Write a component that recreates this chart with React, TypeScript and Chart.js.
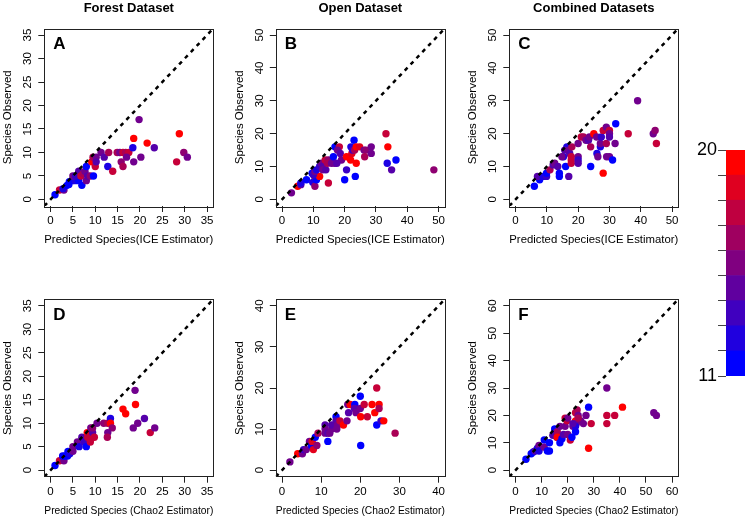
import React, { useEffect, useRef } from "react";
import { Chart, registerables } from "chart.js";
Chart.register(...registerables);

const FONT = '"Liberation Sans", Arial, Helvetica, sans-serif';

// ---------- DATA ----------
// Panel A: Forest dataset, ICE estimator
const forestIceX = [1, 2, 3, 2.8, 3.7, 4.1, 4.2, 4.8, 5.5, 6.3, 7, 5, 5.6, 6.3, 6.8, 7.3, 7.7, 8, 8, 8.3, 8.9, 9.6, 9.2, 9.5, 10.2, 10, 10.2, 11.3, 12, 13, 12.8, 13.9, 14.9, 15.5, 16.2, 16.8, 17.5, 17, 15.8, 16.2, 18.6, 18.4, 18.6, 20.2, 19.8, 21.6, 23.2, 28.8, 28.2, 29.8, 30.6];
const forestIceY = [1, 2, 2, 2.3, 3, 3.2, 3.8, 4, 4, 4, 3, 5, 5, 6, 5, 5.5, 6, 7, 4, 5, 5, 5, 8, 9, 9, 7, 8, 10, 9, 10, 7, 6, 10, 10, 10, 10, 10, 9, 8, 7, 8, 11, 13, 9, 17, 12, 11, 14, 8, 10, 9];
const forestIceC = [11, 18, 15, 12, 11, 11, 11, 11, 12, 11, 11, 15, 13, 14, 18, 17, 15, 11, 15, 14, 16, 11, 20, 17, 15, 18, 14, 15, 14, 17, 12, 18, 17, 15, 18, 17, 18, 15, 16, 17, 15, 12, 20, 15, 15, 20, 14, 20, 18, 16, 15];

// Panel B: Open dataset, ICE estimator
const openIceX = [3, 5, 6, 6, 7.8, 9.6, 9.8, 10.4, 10.5, 11, 12, 10, 10.5, 11, 12, 12.6, 13, 13, 14, 13.8, 14.8, 14.5, 15.8, 16.8, 16.4, 16.9, 18.3, 17.7, 18.6, 19, 17.5, 14.8, 20, 20.6, 20.6, 21.9, 22.3, 22, 22.5, 23, 23.2, 23.7, 23.4, 23.7, 24.8, 26.2, 26.8, 26.4, 28.5, 28.5, 33.2, 33.8, 33.6, 36.4, 35, 48.5];
const openIceY = [2, 4, 4.5, 5, 6, 8, 5.2, 7, 4, 6, 7, 7.5, 8.5, 9, 10, 11, 10, 9, 9, 12, 12, 11, 11, 11, 13, 16, 16, 15, 14, 12, 11, 5, 6, 9, 13, 12, 14, 16, 15, 18, 15, 16, 7, 11, 16, 15, 15, 13, 16, 14, 20, 16, 11, 12, 9, 9];
const openIceC = [15, 20, 14, 12, 11, 11, 12, 15, 16, 11, 20, 13, 15, 12, 13, 15, 14, 15, 14, 18, 16, 17, 15, 15, 11, 11, 18, 15, 14, 15, 14, 18, 11, 13, 20, 20, 19, 12, 13, 11, 17, 20, 11, 20, 19, 15, 16, 17, 15, 15, 18, 20, 12, 11, 14, 16];

// Panel C: Combined datasets, ICE estimator
const combIceX = [6, 7.7, 7, 8.8, 9.9, 9.9, 11, 12, 12.5, 13.5, 14, 14, 17, 16, 15.3, 14.8, 16.4, 15.7, 17, 17.3, 18, 17.8, 17.8, 17.8, 20, 20, 20, 20, 21, 21.7, 22.5, 23.3, 23.6, 24, 24, 25, 25.9, 26, 26.3, 27.1, 27.1, 27.4, 28, 28, 29, 29, 29.1, 30, 30, 30, 30, 31, 31.8, 32, 36, 39, 44, 44.6, 45];
const combIceY = [4, 6, 7, 7, 7, 8, 9, 10.5, 11, 10, 8, 7, 7, 10, 13, 13, 16, 15, 15, 14, 16, 13, 12, 11, 13, 12, 11, 17, 19, 19, 18, 18, 19, 16, 10, 20, 19, 14, 13, 16, 17, 19, 8, 21, 22, 17, 13, 21, 20, 19, 13, 12, 17, 23, 20, 30, 20, 21, 17];
const combIceC = [11, 11, 14, 12, 13, 11, 17, 14, 15, 14, 11, 11, 14, 11, 12, 15, 12, 14, 15, 14, 17, 18, 18, 18, 15, 13, 14, 15, 18, 17, 15, 14, 15, 17, 11, 20, 15, 12, 15, 12, 15, 13, 20, 18, 15, 17, 15, 18, 15, 14, 15, 11, 15, 11, 18, 15, 15, 16, 18];

// Panel D: Forest dataset, Chao2 estimator
const forestChaoX = [1, 2, 3, 2.7, 3.2, 3.8, 3.9, 4.3, 5, 5, 6, 6.4, 7, 7.5, 8, 8.2, 8.3, 8.9, 9, 9.4, 9.8, 9.4, 10.4, 11.9, 12.8, 13.4, 13.4, 13.8, 12.8, 12.7, 16.2, 16.8, 18.9, 19, 18.5, 19.5, 21, 22.3, 23.3];
const forestChaoY = [1, 2, 2, 3, 3, 3, 4, 3.5, 4, 5, 6, 5, 7, 6, 5, 8, 7, 6, 9, 8, 7, 9, 10, 10, 10, 11, 10, 9, 8, 7, 13, 12, 17, 14, 9, 10, 11, 8, 9];
const forestChaoC = [11, 18, 15, 11, 11, 11, 11, 12, 15, 15, 15, 12, 14, 13, 11, 20, 18, 18, 15, 14, 18, 16, 15, 16, 17, 12, 20, 16, 15, 17, 20, 20, 15, 20, 15, 15, 14, 18, 15];

// Panel E: Open dataset, Chao2 estimator
const openChaoX = [2, 4, 5.2, 5.5, 6.2, 7, 7.5, 8, 7.7, 8.5, 8.9, 9.2, 11, 11, 11, 11.7, 11.7, 12.2, 12.7, 12.7, 13.8, 13.8, 14.2, 14, 14.8, 15.7, 16.6, 17, 16.8, 17.4, 18.6, 18.5, 18.9, 20, 20, 20.1, 20.1, 21, 21.8, 23, 23.7, 24.2, 24.2, 24.8, 24.8, 25.3, 26, 28.9];
const openChaoY = [2, 4, 4, 5, 5, 7, 6, 5, 7, 8, 6, 9, 11, 10, 9, 9, 7, 9, 10, 11, 13, 12, 11, 10, 12, 11, 12, 14, 16, 16, 16, 15, 14, 18, 15, 13, 6, 16, 13, 16, 14, 20, 11, 16, 15, 12, 12, 9];
const openChaoC = [15, 20, 15, 13, 15, 15, 11, 19, 19, 11, 16, 17, 14, 15, 15, 14, 11, 15, 15, 14, 11, 14, 15, 15, 18, 20, 15, 14, 15, 20, 11, 14, 15, 11, 15, 20, 11, 18, 18, 20, 20, 18, 11, 20, 17, 13, 20, 17];

// Panel F: Combined datasets, Chao2 estimator
const combChaoX = [4, 6, 6.8, 7.5, 8.4, 9, 9, 11, 11, 12.2, 13, 13, 14.3, 15, 15.8, 16, 16, 17, 17.8, 17, 18.4, 19, 19, 19.7, 20, 21, 21.6, 22, 23, 23, 23.6, 23.3, 23, 23, 24, 25, 26, 27, 28, 28, 29, 35, 35, 35, 38, 41, 53, 54, 20, 24, 22];
const combChaoY = [4, 6, 6.6, 7, 8, 9, 7, 11, 8.4, 7, 7, 10, 12.7, 15, 12, 14, 12, 10, 11.5, 16, 13, 19, 16, 18, 13, 11, 12, 16, 18, 21, 22, 17, 14, 16, 20, 18, 17, 20, 23, 8, 17, 30, 20, 17, 20, 23, 21, 20, 19, 19, 17];
const combChaoC = [11, 11, 11, 14, 12, 15, 12, 11, 15, 11, 11, 11, 14, 11, 15, 17, 20, 11, 11, 15, 14, 18, 15, 18, 15, 18, 11, 15, 20, 18, 17, 15, 11, 12, 15, 15, 15, 15, 11, 20, 18, 15, 18, 18, 18, 20, 15, 15, 15, 17, 14];

// Tick labels
const ticks35 = [0, 5, 10, 15, 20, 25, 30, 35];
const ticks40 = [0, 10, 20, 30, 40];
const ticks50 = [0, 10, 20, 30, 40, 50];
const ticks60 = [0, 10, 20, 30, 40, 50, 60];
const colorBarLevels = [11, 12, 13, 14, 15, 16, 17, 18, 19, 20];

const columnTitles = ["Forest Dataset", "Open Dataset", "Combined Datasets"];
const panelLetters = ["A", "B", "C", "D", "E", "F"];
const iceLabel = "Predicted Species(ICE Estimator)";
const chaoLabel = "Predicted Species (Chao2 Estimator)";
const yLabel = "Species Observed";

// ---------- STYLE / LAYOUT ----------
const W = 748;
const H = 521;
const Y_AXIS_W = 42.9;
const X_AXIS_H = 41.2;
const TICK_FONT = 11.5;

function mix(t: number) {
  const r = Math.round(255 * t);
  const b = Math.round(255 * (1 - t));
  return `rgb(${r},0,${b})`;
}
function rampColor(v: number) {
  const lo = colorBarLevels[0];
  const hi = colorBarLevels[colorBarLevels.length - 1];
  return mix((v - lo) / (hi - lo));
}

type Panel = {
  xs: number[];
  ys: number[];
  cs: number[];
  ticks: number[];
  letter: string;
  title?: string;
  xLabel: string;
  box: [number, number, number, number]; // left, top, right, bottom
};

const COLS = [44.3, 275.8, 509.3];
const BOX_W = 169;
const ROW_TOP = [28.5, 299.3];
const ROW_BOTTOM = [206, 476.7];

const panels: Panel[] = [
  { xs: forestIceX, ys: forestIceY, cs: forestIceC, ticks: ticks35, letter: panelLetters[0], title: columnTitles[0], xLabel: iceLabel, box: [COLS[0], ROW_TOP[0], COLS[0] + BOX_W, ROW_BOTTOM[0]] },
  { xs: openIceX, ys: openIceY, cs: openIceC, ticks: ticks50, letter: panelLetters[1], title: columnTitles[1], xLabel: iceLabel, box: [COLS[1], ROW_TOP[0], COLS[1] + BOX_W, ROW_BOTTOM[0]] },
  { xs: combIceX, ys: combIceY, cs: combIceC, ticks: ticks50, letter: panelLetters[2], title: columnTitles[2], xLabel: iceLabel, box: [COLS[2], ROW_TOP[0], COLS[2] + BOX_W, ROW_BOTTOM[0]] },
  { xs: forestChaoX, ys: forestChaoY, cs: forestChaoC, ticks: ticks35, letter: panelLetters[3], xLabel: chaoLabel, box: [COLS[0], ROW_TOP[1], COLS[0] + BOX_W, ROW_BOTTOM[1]] },
  { xs: openChaoX, ys: openChaoY, cs: openChaoC, ticks: ticks40, letter: panelLetters[4], xLabel: chaoLabel, box: [COLS[1], ROW_TOP[1], COLS[1] + BOX_W, ROW_BOTTOM[1]] },
  { xs: combChaoX, ys: combChaoY, cs: combChaoC, ticks: ticks60, letter: panelLetters[5], xLabel: chaoLabel, box: [COLS[2], ROW_TOP[1], COLS[2] + BOX_W, ROW_BOTTOM[1]] },
];

const framePlugin = {
  id: "frame",
  afterDatasetsDraw(chart: any, _args: any, opts: any) {
    const { ctx, chartArea: a } = chart;
    ctx.save();
    ctx.strokeStyle = "#222";
    ctx.lineWidth = 1;
    ctx.strokeRect(Math.round(a.left) + 0.5, Math.round(a.top) + 0.5, Math.round(a.right - a.left), Math.round(a.bottom - a.top));
    if (opts && opts.letter) {
      ctx.font = `bold 17px ${FONT}`;
      ctx.fillStyle = "#000";
      ctx.textAlign = "left";
      ctx.textBaseline = "alphabetic";
      ctx.fillText(opts.letter, a.left + 9, a.top + 20.5);
    }
    ctx.restore();
  },
};

function panelConfig(p: Panel): any {
  const first = p.ticks[0];
  const last = p.ticks[p.ticks.length - 1];
  const ext = (last - first) * 0.04;
  const lo = first - ext;
  const hi = last + ext;
  const [bl, bt, br, bb] = p.box;
  const titleLine = 13 * 1.2;
  const titlePadTop = 0.8;
  const hasTitle = !!p.title;
  const points = p.xs.map((x, i) => ({ x, y: p.ys[i] }));
  const colors = p.cs.map(rampColor);
  const tickFont = { family: FONT, size: TICK_FONT };
  return {
    type: "scatter",
    data: {
      datasets: [
        {
          data: [{ x: lo, y: lo }, { x: hi, y: hi }],
          showLine: true,
          borderColor: "#000",
          borderWidth: 2.5,
          borderDash: [4, 4.5],
          pointRadius: 0,
          order: 0,
        },
        {
          data: points,
          backgroundColor: colors,
          pointBackgroundColor: colors,
          pointBorderWidth: 0,
          borderWidth: 0,
          pointRadius: 3.7,
          order: 1,
        },
      ],
    },
    options: {
      responsive: false,
      animation: false,
      devicePixelRatio: 1,
      events: [],
      layout: {
        padding: {
          left: bl - Y_AXIS_W,
          right: W - br,
          top: hasTitle ? 0 : bt,
          bottom: H - bb - X_AXIS_H,
        },
      },
      plugins: {
        legend: { display: false },
        tooltip: { enabled: false },
        title: hasTitle
          ? {
              display: true,
              text: p.title,
              fullSize: false,
              color: "#000",
              font: { family: FONT, size: 13, weight: "bold" },
              padding: { top: titlePadTop, bottom: bt - titlePadTop - titleLine },
            }
          : { display: false },
        frame: { letter: p.letter },
      },
      scales: {
        x: {
          type: "linear",
          min: lo,
          max: hi,
          afterBuildTicks: (s: any) => {
            s.ticks = p.ticks.map((v) => ({ value: v }));
          },
          afterFit: (s: any) => {
            s.height = X_AXIS_H;
          },
          ticks: { font: tickFont, color: "#000", padding: 2.1, autoSkip: false, maxRotation: 0, callback: (v: any) => String(v) },
          grid: { drawOnChartArea: false, drawTicks: true, tickLength: 6, color: "#222", lineWidth: 1 },
          border: { display: false },
          title: { display: true, text: p.xLabel, color: "#000", font: tickFont, padding: 0 },
        },
        y: {
          type: "linear",
          min: lo,
          max: hi,
          afterBuildTicks: (s: any) => {
            s.ticks = p.ticks.map((v) => ({ value: v }));
          },
          afterFit: (s: any) => {
            s.width = Y_AXIS_W;
          },
          ticks: { font: tickFont, color: "#000", padding: 3.6, autoSkip: false, minRotation: 90, maxRotation: 90, crossAlign: "center", callback: (v: any) => String(v) },
          grid: { drawOnChartArea: false, drawTicks: true, tickLength: 6, color: "#222", lineWidth: 1 },
          border: { display: false },
          title: { display: true, text: yLabel, color: "#000", font: tickFont, padding: 0 },
        },
      },
    },
    plugins: [framePlugin],
  };
}

function colorBarConfig(): any {
  const n = colorBarLevels.length - 1;
  const datasets = colorBarLevels.slice(0, -1).map((v, i) => ({
    data: [[v, colorBarLevels[i + 1]]],
    backgroundColor: mix(i / (n - 1)),
    borderWidth: 0,
    barPercentage: 1,
    categoryPercentage: 1,
    grouped: false,
  }));
  const barLeft = 726;
  const barRight = 745;
  const barTop = 150;
  const barBottom = 376;
  const axisW = 40;
  return {
    type: "bar",
    data: { labels: [""], datasets },
    options: {
      responsive: false,
      animation: false,
      devicePixelRatio: 1,
      events: [],
      layout: { padding: { left: barLeft - axisW, right: W - barRight, top: barTop, bottom: H - barBottom } },
      plugins: { legend: { display: false }, tooltip: { enabled: false } },
      scales: {
        x: { type: "category", display: false },
        y: {
          type: "linear",
          min: colorBarLevels[0],
          max: colorBarLevels[n],
          afterBuildTicks: (s: any) => {
            s.ticks = colorBarLevels.map((v) => ({ value: v }));
          },
          afterFit: (s: any) => {
            s.width = axisW;
          },
          ticks: {
            font: { family: FONT, size: 18 },
            color: "#000",
            padding: 1,
            autoSkip: false,
            callback: (v: any) => (v === colorBarLevels[0] || v === colorBarLevels[n] ? String(v) : ""),
          },
          grid: { drawOnChartArea: false, drawTicks: true, tickLength: 8, color: "#444", lineWidth: 1 },
          border: { display: false },
        },
      },
    },
  };
}

function ChartCanvas({ make }: { make: () => any }) {
  const ref = useRef<HTMLCanvasElement | null>(null);
  useEffect(() => {
    if (!ref.current) return;
    const chart = new Chart(ref.current, make());
    return () => chart.destroy();
  }, []);
  return (
    <canvas
      ref={ref}
      width={W}
      height={H}
      style={{ position: "absolute", left: 0, top: 0, width: W, height: H }}
    />
  );
}

export default function App() {
  return (
    <div style={{ position: "absolute", left: 0, top: 0, width: W, height: H, background: "#fff", overflow: "hidden" }}>
      {panels.map((p, i) => (
        <ChartCanvas key={i} make={() => panelConfig(p)} />
      ))}
      <ChartCanvas make={colorBarConfig} />
    </div>
  );
}
